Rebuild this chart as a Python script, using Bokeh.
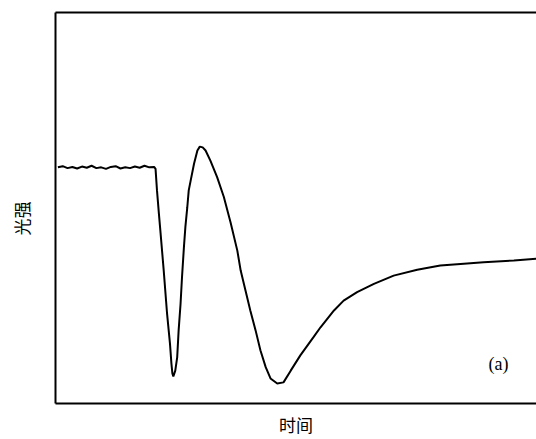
from bokeh.plotting import figure
from bokeh.models import (Range1d, FixedTicker, LinearAxis, Label, Title,
                          CustomJSTickFormatter)
from bokeh.embed import file_html
from bokeh.resources import INLINE

# time (arbitrary units) and light intensity (arbitrary units)
time = [0.5, 1.5, 2.5, 3.5, 4.5, 5.5, 6.5, 7.5, 8.5, 9.5, 10.5, 11.5, 12.5, 13.5,
        14.5, 15.5, 16.5, 17.5, 18.5, 19.5, 20.5,
        20.8, 21.1, 21.5, 21.8, 22.5, 23.2, 23.8, 24.1, 24.3, 24.5, 24.9, 25.3,
        25.6, 26.0, 26.3, 26.7, 27.0, 27.4, 27.7, 28.1, 28.8, 29.5, 30.0, 30.6,
        31.2, 32.2, 33.6, 35.0, 36.4, 37.8, 38.5, 39.5, 40.5, 41.6, 42.6, 43.7,
        44.7, 46.1, 47.4, 48.9, 50.9, 53.6, 55.1, 57.9, 59.9, 62.7, 66.2, 70.3,
        75.2, 80.0, 84.2, 89.0, 95.3, 100.0]
intensity = [60.4, 60.7, 60.2, 60.5, 60.1, 60.6, 60.3, 60.8, 60.2, 60.4, 60.0,
             60.5, 60.7, 60.1, 60.4, 60.2, 60.6, 60.3, 60.8, 60.4, 60.5,
             60.0, 54.5, 48.5, 44.2, 34.0, 22.9, 15.3, 10.2, 7.7, 6.9, 8.4, 11.8,
             18.7, 25.5, 32.3, 40.0, 45.1, 50.2, 54.5, 57.0, 61.3, 64.7, 65.7, 65.5,
             64.7, 62.1, 57.9, 52.8, 46.3, 39.1, 34.0, 28.9, 23.8, 18.7, 13.6, 9.3,
             6.4, 5.1, 5.4, 8.4, 12.3, 16.9, 19.5, 23.8, 26.3, 28.5, 30.6, 32.7,
             34.2, 35.3, 35.7, 36.1, 36.6, 37.0]

x_label = "时间"
y_label = "光强"
panel_tag = "(a)"

W, H = 536, 439
p = figure(width=W, height=H, output_backend="svg", toolbar_location=None,
           x_range=Range1d(0, 100), y_range=Range1d(0, 100),
           x_axis_location=None, y_axis_location=None,
           min_border_left=55, min_border_right=0, min_border_top=12,
           min_border_bottom=36)
p.outline_line_color = None
p.grid.visible = False
p.background_fill_color = "white"
p.border_fill_color = "white"

cjk = "Noto Sans CJK SC"

def make_axis(label=None, ticks=()):
    ax = LinearAxis(ticker=FixedTicker(ticks=list(ticks)))
    ax.major_tick_out = 0
    ax.major_tick_in = 0
    ax.minor_tick_out = 0
    ax.minor_tick_in = 0
    ax.major_tick_line_color = None
    ax.minor_tick_line_color = None
    ax.major_label_text_font_size = "0px"
    ax.axis_line_color = "black"
    ax.axis_line_width = 2
    if label:
        ax.axis_label = label
        ax.axis_label_text_font = cjk
        ax.axis_label_text_font_size = "17px"
        ax.axis_label_text_font_style = "normal"
        ax.axis_label_text_color = "black"
    return ax

bottom = make_axis(x_label)
bottom.axis_label_standoff = 8
# the left axis keeps one invisible, unlabelled tick so that its (hidden) tick
# length reserves room between the frame and the y title
left = make_axis(None, ticks=[50])
left.major_tick_out = 21
left.formatter = CustomJSTickFormatter(code="return ''")
top = make_axis(None)
top.major_tick_out = 4

p.add_layout(bottom, "below")
p.add_layout(left, "left")
p.add_layout(top, "above")
# y-axis title, set slightly below the frame centre as in the original
p.add_layout(Title(text=y_label, align="left", offset=168, vertical_align="middle",
                   standoff=0, text_font=cjk, text_font_size="17px",
                   text_font_style="normal", text_color="black"), "left")

p.line(time, intensity, line_color="black", line_width=2)

p.add_layout(Label(x=92.1, y=10.2, text=panel_tag, text_align="center",
                   text_baseline="middle", text_font="Liberation Serif",
                   text_font_size="18px", text_color="black"))

open("out.html", "w").write(file_html(p, INLINE))
